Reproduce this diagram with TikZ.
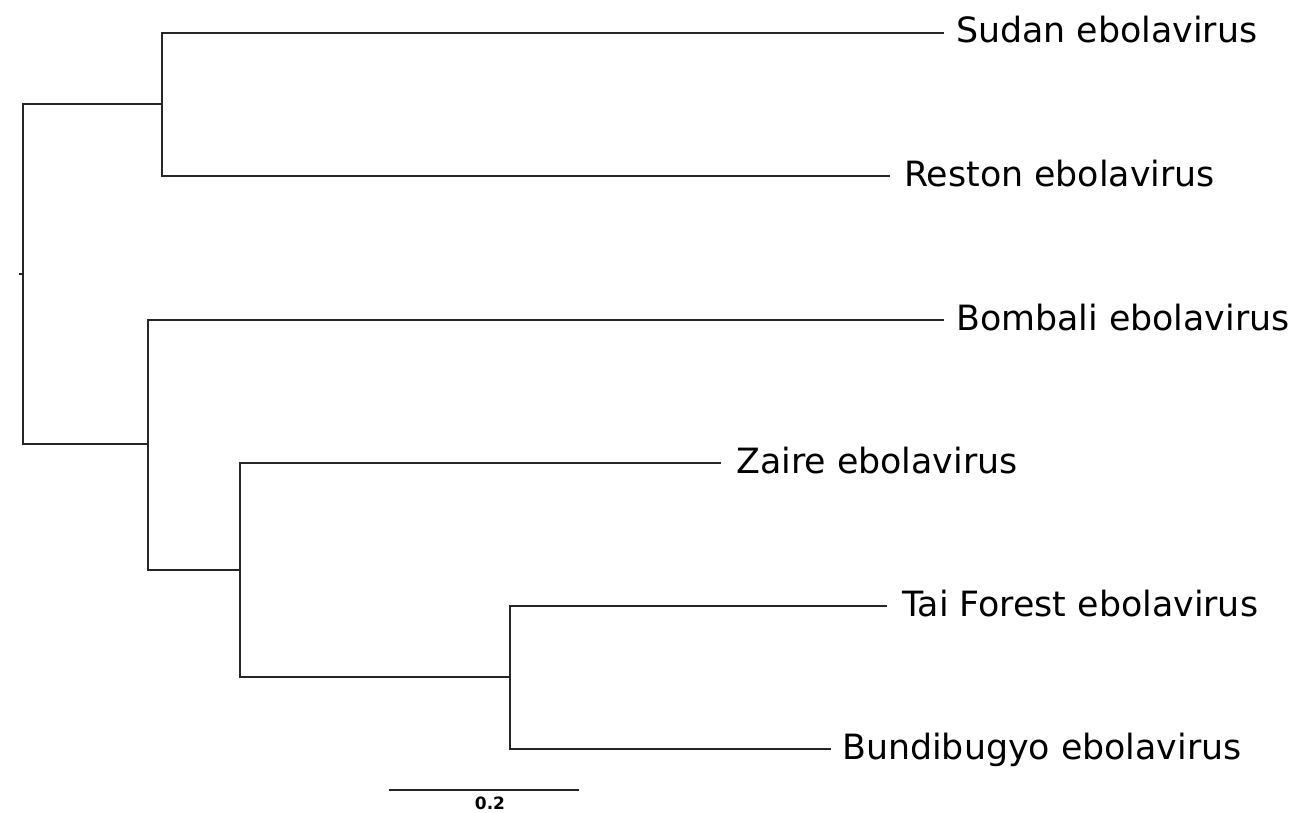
\documentclass[tikz,border=0pt]{standalone}
\usepackage{fontspec}
\setmainfont{DejaVu Sans}
\begin{document}
\begin{tikzpicture}[x=1pt,y=-1pt,
  branch/.style={line width=1.3pt, draw=black!85, line cap=rect},
  leaf/.style={anchor=base west, inner sep=0pt, font=\fontsize{34.8}{40}\selectfont},
  scalelabel/.style={anchor=base, inner sep=0pt, font=\fontsize{17}{20}\selectfont\bfseries}
]
\useasboundingbox (0,0) rectangle (1292,813);
% internal nodes
\coordinate (rootstub) at (20,274);
\coordinate (root) at (23,274);
\coordinate (A) at (162,104);
\coordinate (B) at (148,444);
\coordinate (C) at (240,570);
\coordinate (D) at (510,677);
% leaf tips
\coordinate (tSudan) at (943,33);
\coordinate (tReston) at (889,176);
\coordinate (tBombali) at (943,320);
\coordinate (tZaire) at (720,463);
\coordinate (tTai) at (886,606);
\coordinate (tBundi) at (830,749);
% labels
\node[leaf] (Sudan) at (956,43) {Sudan ebolavirus};
\node[leaf] (Reston) at (904,186) {Reston ebolavirus};
\node[leaf] (Bombali) at (956,330) {Bombali ebolavirus};
\node[leaf] (Zaire) at (736,473) {Zaire ebolavirus};
\node[leaf] (Tai) at (902,616) {Tai Forest ebolavirus};
\node[leaf] (Bundi) at (842,759) {Bundibugyo ebolavirus};
% tree
\draw[branch] (rootstub) -- (root);
\draw[branch] (root) |- (A);
\draw[branch] (root) |- (B);
\draw[branch] (A) |- (tSudan);
\draw[branch] (A) |- (tReston);
\draw[branch] (B) |- (tBombali);
\draw[branch] (B) |- (C);
\draw[branch] (C) |- (tZaire);
\draw[branch] (C) |- (D);
\draw[branch] (D) |- (tTai);
\draw[branch] (D) |- (tBundi);
% scale bar
\coordinate (s1) at (389,790);
\coordinate (s2) at (579,790);
\draw[branch, line cap=butt] (s1) -- (s2);
\node[scalelabel] (scale) at (490,809) {0.2};
\end{tikzpicture}
\end{document}
